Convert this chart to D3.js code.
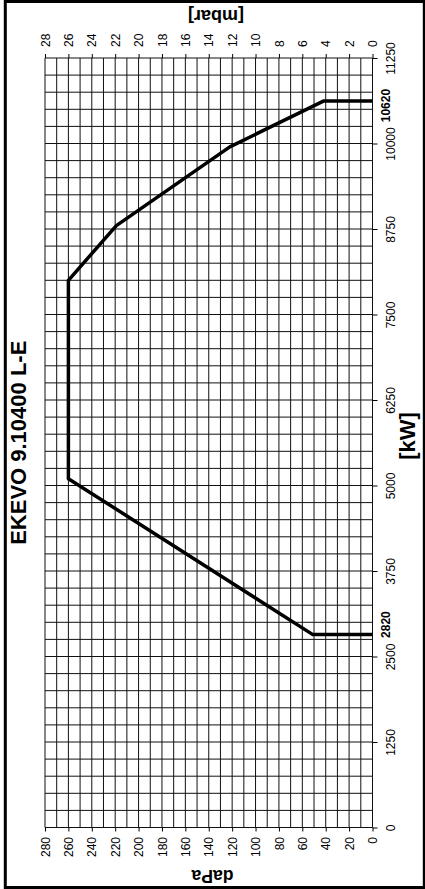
<!DOCTYPE html>
<html>
<head>
<meta charset="utf-8">
<script src="https://cdn.jsdelivr.net/npm/d3@7"></script>
<style>
  body { margin: 0; background: #fff; }
  svg { display: block; font-family: "Liberation Sans", Arial, sans-serif; }
</style>
</head>
<body>
<svg id="chart" width="425" height="889"></svg>
<script>
// curve of the burner working range (kW vs daPa)
const curveKw = [2820, 2820, 5100, 8000, 8800, 9950, 10620, 10620];
const curveDapa = [0, 51, 260, 260, 219, 122, 42, 0];

// axis ticks
const kwTicks = [0, 1250, 2500, 3750, 5000, 6250, 7500, 8750, 10000, 11250];
const dapaTicks = [0, 20, 40, 60, 80, 100, 120, 140, 160, 180, 200, 220, 240, 260, 280];
const mbarTicks = [0, 2, 4, 6, 8, 10, 12, 14, 16, 18, 20, 22, 24, 26, 28];
const markedKw = [2820, 10620];

const title = "EKEVO 9.10400 L-E";

const svg = d3.select("#chart");
const W = 425, H = 889;
const plot = { left: 45, right: 372.5, top: 58, bottom: 827.5 };

// chart is drawn turned on its side: kW goes up, daPa goes left
const x = d3.scaleLinear().domain([0, 280]).range([plot.right, plot.left]);
const xm = d3.scaleLinear().domain([0, 28]).range([plot.right, plot.left]);
const y = d3.scaleLinear().domain([0, 11250]).range([plot.bottom, plot.top]);

// frame
svg.append("rect")
  .attr("x", 5.3).attr("y", 1.5)
  .attr("width", 419).attr("height", 886)
  .attr("fill", "none").attr("stroke", "#000").attr("stroke-width", 3);

// grid
const grid = svg.append("g").attr("stroke", "#111").attr("stroke-width", 1);
grid.selectAll("line.v")
  .data(d3.range(0, 281, 10))
  .join("line")
  .attr("class", "v")
  .attr("x1", d => x(d)).attr("x2", d => x(d))
  .attr("y1", plot.top).attr("y2", plot.bottom);
grid.selectAll("line.h")
  .data(d3.range(0, 11251, 250))
  .join("line")
  .attr("class", "h")
  .attr("x1", plot.left).attr("x2", plot.right)
  .attr("y1", d => y(d)).attr("y2", d => y(d));

// axes
function styleAxis(g) {
  g.select(".domain").remove();
  g.selectAll(".tick line").attr("stroke", "#000");
  g.selectAll("text")
    .attr("fill", "#000")
    .style("font-size", "12px")
    .style("font-family", "'Liberation Sans', Arial, sans-serif");
}

// daPa at the bottom
svg.append("g")
  .attr("transform", `translate(0,${plot.bottom})`)
  .call(d3.axisBottom(x).tickValues(dapaTicks).tickSize(4).tickFormat(d3.format("d")))
  .call(styleAxis)
  .call(g => g.selectAll("text")
    .attr("transform", "rotate(-90)")
    .attr("x", -9.5).attr("y", 0).attr("dy", "0.35em")
    .attr("text-anchor", "end"));

// mbar at the top
svg.append("g")
  .attr("transform", `translate(0,${plot.top})`)
  .call(d3.axisTop(xm).tickValues(mbarTicks).tickSize(4).tickFormat(d3.format("d")))
  .call(styleAxis)
  .call(g => g.selectAll("text")
    .attr("transform", "rotate(-90)")
    .attr("x", 11).attr("y", 0).attr("dy", "0.35em")
    .attr("text-anchor", "start"));

// kW on the right
svg.append("g")
  .attr("transform", `translate(${plot.right},0)`)
  .call(d3.axisRight(y).tickValues(kwTicks).tickSize(5).tickFormat(d3.format("d")))
  .call(styleAxis)
  .call(g => g.selectAll("text")
    .attr("transform", "rotate(-90)")
    .attr("x", 0).attr("y", 22.5).attr("dy", 0)
    .attr("text-anchor", "middle"));

// bold marks for the curve limits
svg.append("g")
  .selectAll("text")
  .data(markedKw)
  .join("text")
  .attr("transform", (d, i) => `translate(390,${y(d) + (i === 0 ? -10 : 4.5)}) rotate(-90)`)
  .attr("text-anchor", "middle")
  .attr("font-size", 12)
  .attr("font-weight", "bold")
  .text(d => d);

// curve
const line = d3.line()
  .x(d => x(d[1]))
  .y(d => y(d[0]));
svg.append("path")
  .datum(d3.zip(curveKw, curveDapa))
  .attr("d", line)
  .attr("fill", "none")
  .attr("stroke", "#000")
  .attr("stroke-width", 3.5)
  .attr("stroke-linejoin", "round");

// titles
svg.append("text")
  .attr("transform", `translate(26,${(plot.top + plot.bottom) / 2}) rotate(-90)`)
  .attr("text-anchor", "middle")
  .attr("font-size", 22)
  .attr("font-weight", "bold")
  .text(title);

svg.append("text")
  .attr("transform", "translate(415,436) rotate(-90)")
  .attr("text-anchor", "middle")
  .attr("font-size", 22)
  .attr("font-weight", "bold")
  .text("[kW]");

svg.append("text")
  .attr("transform", "translate(216,9.5) rotate(180)")
  .attr("text-anchor", "middle")
  .attr("font-size", 18)
  .attr("font-weight", "bold")
  .text("[mbar]");

svg.append("text")
  .attr("transform", "translate(212.5,870) rotate(180)")
  .attr("text-anchor", "middle")
  .attr("font-size", 17.5)
  .attr("font-weight", "bold")
  .text("daPa");
</script>
</body>
</html>
